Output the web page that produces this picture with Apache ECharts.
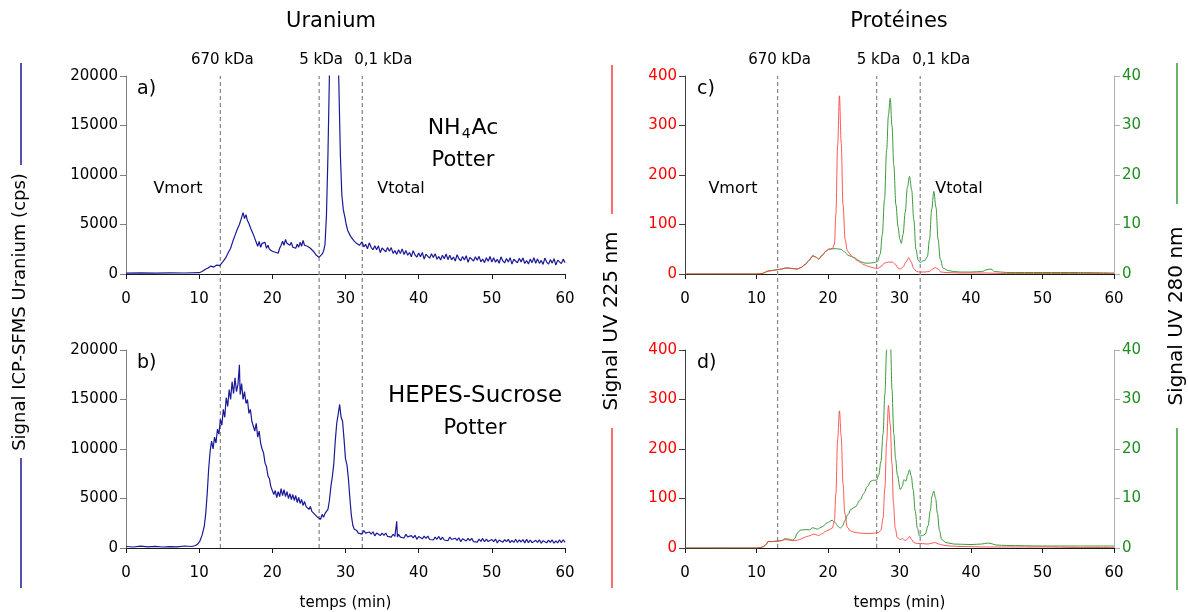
<!DOCTYPE html>
<html><head><meta charset="utf-8">
<script src="https://cdn.jsdelivr.net/npm/echarts@6/dist/echarts.min.js"></script>
<style>html,body{margin:0;padding:0;background:#fff}#c{width:1188px;height:612px}</style>
</head><body><div id="c"></div>
<script>
// ---- DATA (time in min) ----
const xTicks = [0, 10, 20, 30, 40, 50, 60];
const uraniumTicks = [0, 5000, 10000, 15000, 20000];
const uv225Ticks = [0, 100, 200, 300, 400];
const uv280Ticks = [0, 10, 20, 30, 40];

const uraniumNH4Ac = [[0,80],[2,120],[4,90],[6,110],[8,100],[10,130],[10.4,250],[10.8,450],[11.2,600],[11.6,800],[12.0,700],[12.4,900],[12.8,850],[13.2,1200],[13.6,1600],[14.0,2200],[14.3,2600],[14.6,3300],[14.9,3900],[15.2,4500],[15.5,5000],[15.8,5700],[16.0,6200],[16.2,5600],[16.4,6000],[16.6,5400],[16.8,5100],[17.0,4700],[17.2,4500],[17.4,4000],[17.6,3600],[17.8,3200],[18.0,2800],[18.2,3300],[18.4,2700],[18.6,3100],[18.8,2900],[19.0,3200],[19.2,2600],[19.4,2900],[19.6,2500],[19.8,2700],[20.0,2300],[20.2,2500],[20.4,2200],[20.6,2400],[20.8,2100],[21.0,2600],[21.2,2900],[21.4,3300],[21.6,2900],[21.8,3500],[22.0,3100],[22.2,3300],[22.4,2900],[22.6,3200],[22.8,2700],[23.0,2900],[23.2,2600],[23.4,3000],[23.6,2700],[23.8,3200],[24.0,2800],[24.2,3400],[24.4,2900],[24.6,3100],[24.8,2800],[25.0,3000],[25.2,2600],[25.4,2700],[25.6,2300],[25.8,2200],[26.0,1900],[26.2,2000],[26.4,1700],[26.6,1900],[26.8,2000],[27.0,2300],[27.2,3000],[27.4,6000],[27.6,12000],[27.8,20000],[28.1,30000],[28.5,34000],[28.8,28000],[29.1,19000],[29.3,12000],[29.5,8000],[29.7,6500],[29.9,5800],[30.1,5000],[30.3,4400],[30.5,4300],[30.7,3800],[30.9,3900],[31.1,3400],[31.3,3600],[31.5,3100],[31.7,3300],[31.9,2900],[32.0,3100],[32.25,3250],[32.5,2750],[32.75,3000],[33.0,2550],[33.25,3150],[33.5,2700],[33.75,2450],[34.0,2850],[34.25,2450],[34.5,2850],[34.75,2150],[35.0,2630],[35.25,2460],[35.5,2240],[35.75,2670],[36.0,2300],[36.25,2670],[36.5,2090],[36.75,2360],[37.0,1980],[37.25,2450],[37.5,2070],[37.75,2540],[38.0,1960],[38.25,2380],[38.5,1900],[38.75,2170],[39.0,1740],[39.25,2360],[39.5,1930],[39.75,1700],[40.0,2120],[40.25,1750],[40.5,2180],[40.75,1510],[41.0,1990],[41.25,1820],[41.5,1600],[41.75,2035],[42.0,1670],[42.25,2055],[42.5,1490],[42.75,1775],[43.0,1410],[43.25,1895],[43.5,1530],[43.75,2015],[44.0,1450],[44.25,1890],[44.5,1430],[44.75,1720],[45.0,1310],[45.25,1950],[45.5,1540],[45.75,1330],[46.0,1770],[46.25,1410],[46.5,1850],[46.75,1190],[47.0,1680],[47.25,1520],[47.5,1310],[47.75,1750],[48.0,1390],[48.25,1780],[48.5,1220],[48.75,1510],[49.0,1150],[49.25,1640],[49.5,1280],[49.75,1770],[50.0,1210],[50.25,1650],[50.5,1195],[50.75,1490],[51.0,1085],[51.25,1730],[51.5,1325],[51.75,1120],[52.0,1565],[52.25,1210],[52.5,1655],[52.75,1000],[53.0,1495],[53.25,1340],[53.5,1135],[53.75,1580],[54.0,1225],[54.25,1620],[54.5,1065],[54.75,1360],[55.0,1005],[55.25,1500],[55.5,1145],[55.75,1640],[56.0,1085],[56.25,1530],[56.5,1075],[56.75,1370],[57.0,965],[57.25,1610],[57.5,1205],[57.75,1000],[58.0,1450],[58.25,1100],[58.5,1550],[58.75,900],[59.0,1400],[59.25,1250],[59.5,1050],[59.75,1500],[60.0,1150]];

const uraniumHEPES = [[0,150],[1,100],[2,180],[3,120],[4,160],[5,100],[6,140],[7,120],[8,200],[9,150],[9.5,250],[9.8,400],[10.1,700],[10.4,1300],[10.7,2200],[10.9,3500],[11.1,5500],[11.3,8000],[11.5,9800],[11.7,10800],[11.9,10000],[12.1,11200],[12.3,10600],[12.5,12000],[12.7,11500],[12.9,13000],[13.1,12400],[13.3,14000],[13.5,13200],[13.7,15200],[13.9,14300],[14.1,16000],[14.3,15000],[14.5,16800],[14.7,15600],[14.9,17200],[15.1,15800],[15.3,16500],[15.5,18500],[15.6,15500],[15.8,16600],[16.0,15000],[16.2,15800],[16.4,14600],[16.6,15000],[16.8,13600],[17.0,14000],[17.2,12800],[17.4,13000],[17.6,11800],[17.8,12600],[18.0,11200],[18.2,11800],[18.4,10600],[18.6,10000],[18.8,9600],[19.0,8600],[19.2,8200],[19.4,7300],[19.6,7000],[19.8,6200],[20.0,6000],[20.2,5400],[20.4,5800],[20.6,5100],[20.8,5700],[21.0,5200],[21.2,6000],[21.4,5300],[21.6,5900],[21.8,5200],[22.0,5700],[22.2,5000],[22.4,5500],[22.6,4900],[22.8,5400],[23.0,4800],[23.2,5300],[23.4,4600],[23.6,5100],[23.8,4500],[24.0,4900],[24.2,4300],[24.4,4700],[24.6,4200],[24.8,4400],[25.0,3900],[25.2,4200],[25.4,3700],[25.6,3900],[25.8,3400],[26.0,3600],[26.2,3100],[26.4,3300],[26.6,2900],[26.8,3400],[27.0,3100],[27.2,3500],[27.4,3300],[27.6,3900],[27.8,4800],[28.0,6200],[28.2,7200],[28.4,8500],[28.6,10800],[28.8,12600],[29.0,13500],[29.2,14500],[29.4,13200],[29.6,12800],[29.8,11000],[30.0,9000],[30.2,8400],[30.4,7000],[30.6,5000],[30.8,3300],[31.0,2300],[31.2,1900],[31.5,1800],[31.75,1500],[32.0,1660],[32.25,1400],[32.5,1770],[32.75,1510],[33.0,1370],[33.25,1620],[33.5,1390],[33.75,1640],[34.0,1230],[34.25,1510],[34.5,1400],[34.75,1260],[35.0,1510],[35.25,1285],[35.5,1510],[35.75,1165],[36.0,1330],[36.25,1105],[36.5,1390],[36.75,1165],[37.0,2700],[37.1,1120],[37.25,1380],[37.5,1100],[37.75,1265],[38.0,1010],[38.25,1385],[38.5,1130],[38.75,995],[39.0,1250],[39.25,1025],[39.5,1280],[39.75,875],[40.0,1160],[40.25,1060],[40.5,930],[40.75,1190],[41.0,970],[41.25,1200],[41.5,860],[41.75,1030],[42.0,810],[42.25,1100],[42.5,880],[42.75,1170],[43.0,830],[43.25,1090],[43.5,810],[43.75,980],[44.0,730],[44.25,1110],[44.5,860],[44.75,730],[45.0,990],[45.25,772],[45.5,1035],[45.75,638],[46.0,930],[46.25,832],[46.5,705],[46.75,968],[47.0,750],[47.25,982],[47.5,645],[47.75,818],[48.0,600],[48.25,892],[48.5,675],[48.75,968],[49.0,630],[49.25,895],[49.5,650],[49.75,585],[50.0,850],[50.25,636],[50.5,902],[50.75,508],[51.0,804],[51.25,710],[51.5,586],[51.75,852],[52.0,638],[52.25,874],[52.5,540],[52.75,776],[53.0,562],[53.25,888],[53.5,554],[53.75,820],[54.0,608],[54.25,846],[54.5,514],[54.75,872],[55.0,540],[55.25,808],[55.5,536],[55.75,624],[56.0,772],[56.25,560],[56.5,828],[56.75,496],[57.0,734],[57.25,642],[57.5,520],[57.75,788],[58.0,576],[58.25,814],[58.5,482],[58.75,720],[59.0,508],[59.25,836],[59.5,534],[59.75,832],[60.0,560]];

const uv225C = [[0,0],[10,0],[10.8,1],[11.3,4],[11.6,6],[12.2,7],[13,9],[13.5,10],[14,12],[14.5,12],[15,11],[15.7,10],[16.2,13],[16.8,19],[17.3,27],[17.9,37],[18.3,34],[18.7,30],[19.2,38],[19.7,46],[20.1,50],[20.6,51],[20.9,60],[21.1,120],[21.35,260],[21.6,360],[21.85,265],[22.1,140],[22.4,70],[22.7,47],[23.2,38],[23.6,33],[24.0,28],[24.5,24],[25,19],[25.5,16],[26,14],[26.5,12],[26.9,11],[27.4,15],[27.9,22],[28.4,24],[29.0,24],[29.4,20],[29.8,12],[30.1,10],[30.5,14],[30.9,24],[31.3,33],[31.6,25],[32.0,11],[32.4,5],[32.8,4],[33.5,4],[34.2,5],[34.6,10],[35.0,13],[35.4,10],[35.8,4],[36.5,3],[38.5,2],[42,2],[45,1],[50,1],[55,1],[60,1]];

const uv280C = [[0,0],[10,0],[10.8,0.1],[11.3,0.4],[11.6,0.6],[12.2,0.7],[13,0.9],[13.5,1.0],[14,1.2],[14.5,1.2],[15,1.1],[15.7,1.0],[16.2,1.3],[16.8,1.9],[17.3,2.7],[17.9,3.7],[18.3,3.4],[18.7,3.0],[19.2,3.8],[19.7,4.6],[20.1,5.0],[20.6,5.1],[21.2,5.1],[21.8,5.0],[22.3,4.5],[22.8,3.8],[23.3,3.5],[23.7,3.3],[24.2,2.8],[24.7,2.4],[25.2,2.2],[25.8,2.2],[26.4,2.3],[26.9,2.5],[27.3,4.0],[27.6,8],[27.9,15],[28.2,25],[28.45,32],[28.7,35.5],[28.95,30],[29.2,22],[29.5,14],[29.8,9.5],[30.05,7],[30.25,6.2],[30.5,8],[30.8,12.5],[31.1,17.5],[31.4,19.7],[31.7,17],[32.0,11],[32.3,5],[32.6,2.8],[32.9,2.3],[33.2,2.6],[33.6,2.8],[33.9,3.5],[34.2,7],[34.5,13],[34.8,16.7],[35.1,13.5],[35.4,7],[35.7,3],[36.1,1.2],[36.8,0.7],[37.6,0.5],[38.5,0.4],[40,0.4],[41.5,0.5],[42.3,0.9],[42.8,1.0],[43.3,0.5],[45,0.3],[50,0.3],[55,0.3],[60,0.2]];

const uv225D = [[0,0],[10,0],[10.6,1],[11.0,3],[11.4,8],[11.6,13],[12.2,13],[13,14],[13.5,15],[14,17],[14.5,16],[15,15],[15.5,15],[16,17],[16.5,20],[17,23],[17.5,25],[17.9,28],[18.3,27],[18.7,25],[19.2,29],[19.6,33],[20,36],[20.6,40],[20.9,55],[21.1,110],[21.35,220],[21.6,277],[21.85,225],[22.1,130],[22.35,70],[22.7,42],[23.1,35],[23.6,32],[24.5,30],[25.5,29],[26.5,30],[27.0,31],[27.4,36],[27.7,60],[27.95,120],[28.2,215],[28.45,288],[28.7,250],[28.95,170],[29.15,90],[29.4,40],[29.7,21],[30.1,17],[30.45,19],[30.8,15],[31.1,18],[31.4,23],[31.7,17],[32.0,11],[32.5,9],[33,9],[34,8],[34.6,10],[35.0,11],[35.5,8],[36,6],[37,4],[38.6,3],[42,2],[45,2],[50,2],[55,1],[60,1]];

const uv280D = [[0,0],[10,0],[10.6,0.1],[11.0,0.3],[11.4,0.8],[11.6,1.3],[12.2,1.3],[13,1.4],[13.5,1.5],[14,1.9],[14.5,1.8],[15,1.6],[15.3,1.8],[15.7,3.0],[16.1,3.6],[16.8,3.7],[17.4,3.7],[17.9,4.1],[18.5,3.8],[19.2,4.3],[19.9,5.1],[20.6,5.6],[21.0,5.1],[21.4,4.4],[21.7,4.0],[22.0,4.4],[22.4,5.6],[22.8,6.8],[23.2,7.8],[23.8,8.3],[24.5,9.7],[25.0,11.0],[25.5,12.4],[26.0,13.5],[26.4,13.7],[26.8,13.7],[27.1,14.8],[27.4,17.5],[27.7,23],[27.95,31],[28.2,40],[28.5,45],[28.75,41],[28.95,32],[29.2,23],[29.45,18],[29.7,14.8],[30.1,11.8],[30.4,12.5],[30.6,13.8],[30.9,13.5],[31.15,14.8],[31.4,15.8],[31.65,14.5],[31.9,11.8],[32.2,7.5],[32.5,4],[32.8,2.4],[33.2,2.5],[33.6,2.8],[34.0,4.5],[34.3,7.5],[34.55,10.5],[34.8,11.5],[35.05,10],[35.3,7],[35.6,3.5],[35.9,1.7],[36.5,1.1],[37.6,0.8],[40,0.7],[41.5,0.8],[42.3,1.0],[42.8,0.9],[43.5,0.6],[45,0.5],[50,0.4],[55,0.4],[60,0.4]];

const markerNames = ['670 kDa', '5 kDa', '0,1 kDa'];
const markersLeft = [12.9, 26.4, 32.3];
const markersRight = [12.95, 26.8, 32.9];

// ---- CHART ----
const FONT = 'DejaVu Sans';
const NAVY = '#1a1a96', RED = '#ff3b3b', GREEN = '#3a9a3a';
const chart = echarts.init(document.getElementById('c'), null, {renderer: 'canvas'});

const G = [
  {left:126, top:76, width:439, height:198},
  {left:126, top:350, width:439, height:198},
  {left:685, top:76, width:429, height:198},
  {left:685, top:350, width:429, height:198},
  {left:126, top:76, width:439, height:472},
  {left:685, top:76, width:429, height:472}
];

function xAx(i, named) {
  return {
    gridIndex: i, type: 'value', min: xTicks[0], max: xTicks[xTicks.length-1], interval: xTicks[1]-xTicks[0],
    splitLine: {show: false},
    axisLine: {lineStyle: {color: '#1a1a1a', width: 1}},
    axisTick: {show: true, inside: false, length: 5, lineStyle: {color: '#1a1a1a'}},
    axisLabel: {color: '#000', fontFamily: FONT, fontSize: 15, margin: 18},
    name: named ? 'temps (min)' : '', nameLocation: 'middle', nameGap: 48,
    nameTextStyle: {color: '#000', fontFamily: FONT, fontSize: 15}
  };
}
function yAx(i, ticks, color, pos, lineColor) {
  return {
    gridIndex: i, type: 'value', position: pos, min: ticks[0], max: ticks[ticks.length-1], interval: ticks[1]-ticks[0],
    splitLine: {show: false},
    axisLine: {show: true, lineStyle: {color: lineColor, width: 1}},
    axisTick: {show: true, inside: false, length: 6, lineStyle: {color: lineColor}},
    axisLabel: {color: color, fontFamily: FONT, fontSize: 15, margin: 8, formatter: (v) => String(v)}
  };
}

const xAxis = [xAx(0,false), xAx(1,true), xAx(2,false), xAx(3,true),
  {gridIndex:4, type:'value', min:0, max:60, show:false},
  {gridIndex:5, type:'value', min:0, max:60, show:false}];
const yAxis = [
  yAx(0, uraniumTicks, '#000', 'left', '#7f7f7f'),
  yAx(1, uraniumTicks, '#000', 'left', '#7f7f7f'),
  yAx(2, uv225Ticks, '#ff0000', 'left', '#404040'),
  yAx(2, uv280Ticks, '#1e8c1e', 'right', '#b0b0b0'),
  yAx(3, uv225Ticks, '#ff0000', 'left', '#404040'),
  yAx(3, uv280Ticks, '#1e8c1e', 'right', '#b0b0b0'),
  {gridIndex:4, type:'value', min:0, max:1, show:false},
  {gridIndex:5, type:'value', min:0, max:1, show:false}
];

function lineS(data, xi, yi, color, op, w) {
  return {type: 'line', xAxisIndex: xi, yAxisIndex: yi, data: data, showSymbol: false, symbol: 'none',
    smooth: false, clip: true, lineStyle: {color: color, width: w || 1, opacity: op || 1}, z: 3, animation: false};
}
function smoothS(data, xi, yi, color, op) {
  const s = lineS(data, xi, yi, color, op);
  s.smooth = 0.35; s.smoothMonotone = 'x';
  return s;
}

const series = [
  lineS(uraniumNH4Ac, 0, 0, NAVY, 1, 1.2),
  lineS(uraniumHEPES, 1, 1, NAVY, 1, 1.2),
  smoothS(uv280C, 2, 3, GREEN),
  smoothS(uv225C, 2, 2, RED, 0.85),
  smoothS(uv280D, 3, 5, GREEN),
  smoothS(uv225D, 3, 4, RED, 0.85)
];

function addMarkers(vals, xi, yi) {
  vals.forEach((v) => {
    series.push({type: 'line', xAxisIndex: xi, yAxisIndex: yi, data: [[v, 0], [v, 1]], showSymbol: false, symbol: 'none',
      lineStyle: {color: '#8c8c8c', width: 1.3, type: [4, 3]}, z: 1, animation: false, silent: true});
  });
  series.push({type: 'scatter', xAxisIndex: xi, yAxisIndex: yi, symbolSize: 0, itemStyle: {color: '#000', opacity: 1},
    silent: true, animation: false, z: 5,
    label: {show: true, position: 'top', distance: 8, formatter: '{b}', color: '#000', fontFamily: FONT, fontSize: 15},
    data: vals.map((v, k) => ({value: [v, 1], name: markerNames[k],
      label: {show: true, position: 'top', distance: 8, formatter: '{b}', color: '#000', fontFamily: FONT, fontSize: 15,
        offset: [k === 2 ? 21 : 2, 0]}}))});
}
addMarkers(markersLeft, 4, 6);
addMarkers(markersRight, 5, 7);

function txt(x, y, text, size, align, extra) {
  return Object.assign({type: 'text', x: x, y: y, silent: true,
    style: {text: text, font: size + 'px "' + FONT + '"', fill: '#000', textAlign: align || 'center', textVerticalAlign: 'middle'}}, extra || {});
}
function vtxt(x, y, text, size) {
  return {type: 'text', x: x, y: y, rotation: Math.PI / 2, silent: true,
    style: {text: text, font: size + 'px "' + FONT + '"', fill: '#000', textAlign: 'center', textVerticalAlign: 'middle'}};
}
function vline(x, y1, y2, color) {
  return {type: 'line', silent: true, shape: {x1: x, y1: y1, x2: x, y2: y2}, style: {stroke: color, lineWidth: 1.5}};
}

const graphic = [
  txt(331, 22, 'Uranium', 21),
  txt(899, 22, 'Protéines', 21),
  txt(137, 89, 'a)', 19, 'left'),
  txt(137, 363, 'b)', 19, 'left'),
  txt(697, 89, 'c)', 19, 'left'),
  txt(697, 363, 'd)', 19, 'left'),
  {type: 'text', x: 463, y: 128, silent: true, style: {
    text: '{n|NH}{s|4}{n|Ac}', textAlign: 'center', textVerticalAlign: 'middle',
    rich: {n: {font: '22px "' + FONT + '"', fill: '#000', lineHeight: 26},
           s: {font: '14px "' + FONT + '"', fill: '#000', lineHeight: 26, verticalAlign: 'bottom', padding: [10, 1, 0, 1]}}}},
  txt(463, 161, 'Potter', 21),
  txt(475, 396, 'HEPES-Sucrose', 23),
  txt(475, 429, 'Potter', 21),
  txt(178, 189, 'Vmort', 16),
  txt(401, 189, 'Vtotal', 16),
  txt(733, 189, 'Vmort', 16),
  txt(959, 189, 'Vtotal', 16),
  vtxt(20, 312, 'Signal ICP-SFMS Uranium (cps)', 18),
  vline(21, 63, 165, NAVY), vline(21, 458, 588, NAVY),
  vtxt(612, 321, 'Signal UV 225 nm', 20),
  vline(612, 65, 214, RED), vline(612, 428, 588, RED),
  vtxt(1177, 316, 'Signal UV 280 nm', 20),
  vline(1177, 63, 204, GREEN), vline(1177, 428, 590, GREEN)
];

chart.setOption({
  animation: false,
  backgroundColor: '#fff',
  textStyle: {fontFamily: FONT},
  grid: G, xAxis: xAxis, yAxis: yAxis, series: series, graphic: graphic
});
</script></body></html>
